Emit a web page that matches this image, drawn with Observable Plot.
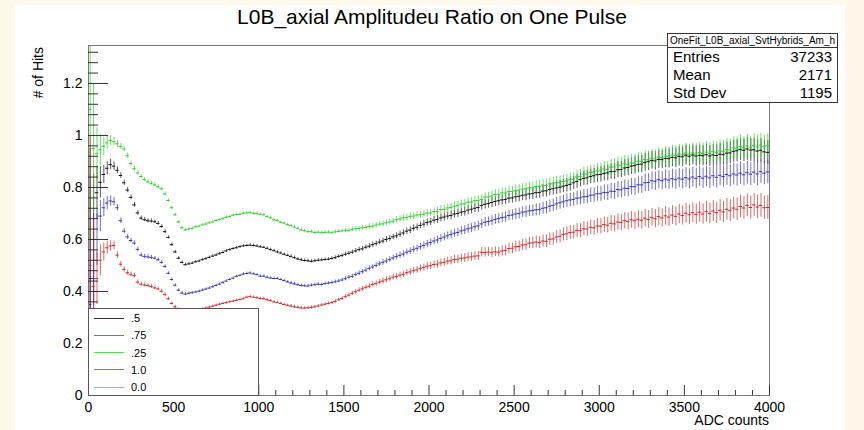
<!DOCTYPE html>
<html><head><meta charset="utf-8">
<script src="https://cdn.jsdelivr.net/npm/d3@7"></script>
<script src="https://cdn.jsdelivr.net/npm/@observablehq/plot@0.6"></script>
<style>
body{margin:0;background:#fdf8ea;width:864px;height:430px;overflow:hidden;font-family:"Liberation Sans",Arial,sans-serif;position:relative;}
#canvas{position:absolute;left:15px;top:5px;width:830px;height:425px;background:#fff;}
#chart{position:absolute;left:0;top:0;}
#title{position:absolute;left:0;width:864px;top:5px;text-align:center;font-size:21px;color:#000;}
#stats{position:absolute;left:667px;top:33px;width:169px;height:68px;border:1px solid #333;background:#fff;font-size:15px;}
#stats .hd{height:13px;border-bottom:1px solid #333;font-size:10px;text-align:center;line-height:13px;}
#stats .row{display:flex;justify-content:space-between;padding:0 5px 0 5px;height:18px;line-height:18px;}
#legend{position:absolute;left:88px;top:308px;width:169px;height:86px;border:1px solid #555;background:#fff;font-size:11px;}
#legend .it{position:absolute;left:5px;height:14px;display:flex;align-items:center;}
#legend .ln{width:30px;height:0;border-top:1px solid;margin-right:7px;}
#ytitle{position:absolute;left:30px;top:47px;writing-mode:vertical-rl;transform:rotate(180deg);font-size:14px;white-space:nowrap;}
#xtitle{position:absolute;right:95px;top:412px;font-size:14px;}
</style></head>
<body>
<div id="canvas"></div>
<div id="chart"></div>
<div id="title"></div>
<div id="ytitle"></div>
<div id="xtitle"></div>
<div id="stats"></div>
<div id="legend"></div>
<script>
// ---------- data ----------
const titleText = "L0B_axial Amplitudeu Ratio on One Pulse";
const xLabel = "ADC counts";
const yLabel = "# of Hits";
const statsName = "OneFit_L0B_axial_SvtHybrids_Am_h";
const statsKeys = ["Entries", "Mean", "Std Dev"];
const statsVals = ["37233", "2171", "1195"];

const binWidth = 20;           // ADC counts per bin
const xDomain = [0, 4000];
const yDomain = [0, 1.346];
const xTickValues = [0, 500, 1000, 1500, 2000, 2500, 3000, 3500, 4000];
const xTickLabels = ["0", "500", "1000", "1500", "2000", "2500", "3000", "3500", "4000"];
const xMinorStep = 100;
const yTickValues = [0, 0.2, 0.4, 0.6, 0.8, 1.0, 1.2];
const yTickLabels = ["0", "0.2", "0.4", "0.6", "0.8", "1", "1.2"];
const yMinorStep = 0.04;

const seriesNames = [".5", ".75", ".25", "1.0", "0.0"];
const seriesColors = ["#111111", "#3434b4", "#30cc30", "#c82a2a", "#00e5ee"];
const legendColors = ["#333333", "#6a6ae6", "#55dd55", "#dd5555", "#30e0f0"];

const ratio05 = [
0.450,0.600,0.780,0.820,0.850,0.874,0.888,0.882,0.866,0.846,
0.818,0.790,0.762,0.733,0.702,0.682,0.676,0.672,0.671,0.668,
0.662,0.650,0.630,0.608,0.580,0.552,0.528,0.512,0.503,0.506,
0.509,0.514,0.517,0.522,0.526,0.531,0.536,0.540,0.545,0.550,
0.556,0.561,0.565,0.568,0.572,0.575,0.577,0.578,0.577,0.575,
0.572,0.570,0.566,0.561,0.557,0.552,0.548,0.543,0.539,0.535,
0.530,0.525,0.522,0.519,0.518,0.516,0.518,0.520,0.521,0.523,
0.524,0.527,0.530,0.535,0.538,0.543,0.547,0.551,0.556,0.561,
0.564,0.570,0.574,0.580,0.584,0.590,0.594,0.600,0.604,0.610,
0.614,0.620,0.625,0.632,0.636,0.643,0.647,0.654,0.659,0.665,
0.668,0.674,0.677,0.683,0.686,0.690,0.692,0.698,0.700,0.705,
0.707,0.713,0.716,0.720,0.723,0.731,0.735,0.738,0.742,0.746,
0.749,0.752,0.754,0.759,0.760,0.764,0.766,0.770,0.771,0.775,
0.776,0.780,0.781,0.786,0.787,0.792,0.795,0.798,0.801,0.805,
0.808,0.812,0.818,0.823,0.830,0.835,0.837,0.842,0.845,0.849,
0.850,0.854,0.856,0.861,0.862,0.868,0.869,0.875,0.877,0.882,
0.884,0.889,0.890,0.896,0.899,0.904,0.902,0.908,0.907,0.912,
0.911,0.916,0.914,0.920,0.918,0.924,0.920,0.925,0.921,0.924,
0.922,0.926,0.921,0.925,0.923,0.928,0.926,0.932,0.933,0.939,
0.941,0.946,0.943,0.948,0.944,0.945,0.940,0.943,0.937,0.935];

const ratio075 = [
0.350,0.450,0.600,0.690,0.722,0.740,0.748,0.745,0.722,0.672,
0.632,0.610,0.596,0.586,0.562,0.540,0.535,0.533,0.531,0.528,
0.522,0.512,0.496,0.470,0.446,0.424,0.405,0.394,0.390,0.393,
0.395,0.398,0.401,0.405,0.409,0.413,0.418,0.423,0.428,0.434,
0.440,0.446,0.451,0.458,0.462,0.467,0.469,0.471,0.468,0.465,
0.459,0.459,0.455,0.452,0.450,0.450,0.446,0.442,0.437,0.433,
0.429,0.426,0.423,0.422,0.421,0.424,0.426,0.428,0.427,0.430,
0.432,0.434,0.437,0.440,0.444,0.449,0.455,0.458,0.465,0.470,
0.476,0.482,0.489,0.494,0.500,0.506,0.512,0.517,0.523,0.529,
0.534,0.539,0.544,0.551,0.555,0.561,0.566,0.572,0.577,0.583,
0.588,0.594,0.598,0.604,0.609,0.614,0.619,0.624,0.627,0.633,
0.636,0.641,0.644,0.649,0.652,0.660,0.666,0.669,0.672,0.677,
0.680,0.684,0.686,0.692,0.694,0.698,0.700,0.705,0.706,0.710,
0.711,0.714,0.715,0.720,0.722,0.728,0.731,0.737,0.741,0.745,
0.749,0.752,0.754,0.759,0.760,0.764,0.765,0.770,0.771,0.776,
0.776,0.781,0.780,0.786,0.785,0.792,0.791,0.797,0.796,0.803,
0.803,0.810,0.810,0.818,0.819,0.826,0.824,0.830,0.826,0.832,
0.828,0.834,0.830,0.836,0.832,0.838,0.833,0.840,0.835,0.842,
0.836,0.843,0.837,0.845,0.839,0.847,0.842,0.850,0.845,0.852,
0.848,0.855,0.849,0.857,0.851,0.859,0.852,0.861,0.855,0.860];

const ratio025 = [
1.100,0.950,0.930,0.945,0.958,0.972,0.981,0.976,0.968,0.958,
0.948,0.922,0.892,0.872,0.856,0.842,0.830,0.822,0.816,0.810,
0.803,0.795,0.775,0.750,0.722,0.695,0.667,0.645,0.637,0.640,
0.643,0.649,0.651,0.656,0.659,0.664,0.667,0.673,0.676,0.680,
0.685,0.688,0.693,0.696,0.697,0.701,0.702,0.704,0.700,0.700,
0.697,0.695,0.688,0.683,0.676,0.673,0.666,0.663,0.657,0.653,
0.648,0.643,0.637,0.634,0.630,0.630,0.627,0.628,0.626,0.627,
0.628,0.626,0.629,0.631,0.633,0.635,0.635,0.639,0.641,0.642,
0.645,0.646,0.650,0.651,0.655,0.659,0.660,0.664,0.667,0.670,
0.676,0.679,0.683,0.684,0.689,0.690,0.694,0.695,0.697,0.701,
0.702,0.707,0.708,0.715,0.716,0.721,0.723,0.728,0.730,0.736,
0.737,0.743,0.744,0.749,0.750,0.754,0.763,0.764,0.767,0.773,
0.774,0.779,0.779,0.785,0.785,0.789,0.790,0.794,0.795,0.799,
0.799,0.804,0.804,0.809,0.808,0.814,0.814,0.818,0.819,0.823,
0.825,0.830,0.832,0.840,0.843,0.851,0.852,0.858,0.859,0.864,
0.864,0.871,0.870,0.878,0.879,0.886,0.884,0.891,0.889,0.895,
0.894,0.901,0.900,0.907,0.906,0.912,0.910,0.917,0.915,0.921,
0.919,0.925,0.923,0.929,0.926,0.932,0.928,0.933,0.929,0.934,
0.931,0.936,0.932,0.938,0.935,0.941,0.939,0.946,0.944,0.952,
0.951,0.958,0.952,0.960,0.953,0.962,0.956,0.963,0.957,0.960];

const ratio10 = [
0.500,0.420,0.450,0.520,0.552,0.568,0.575,0.577,0.540,0.505,
0.485,0.472,0.466,0.461,0.436,0.428,0.425,0.423,0.419,0.414,
0.410,0.401,0.388,0.372,0.354,0.341,0.331,0.324,0.320,0.321,
0.323,0.326,0.329,0.332,0.336,0.340,0.343,0.347,0.351,0.354,
0.357,0.360,0.363,0.366,0.369,0.372,0.378,0.380,0.378,0.376,
0.373,0.372,0.368,0.365,0.360,0.358,0.354,0.350,0.347,0.344,
0.341,0.339,0.337,0.336,0.337,0.339,0.341,0.344,0.348,0.351,
0.354,0.357,0.362,0.368,0.373,0.380,0.386,0.393,0.399,0.405,
0.410,0.416,0.420,0.427,0.430,0.436,0.440,0.445,0.449,0.455,
0.458,0.463,0.466,0.472,0.475,0.480,0.483,0.489,0.492,0.497,
0.499,0.504,0.505,0.510,0.512,0.517,0.518,0.523,0.524,0.528,
0.529,0.532,0.533,0.536,0.537,0.551,0.550,0.552,0.549,0.553,
0.551,0.556,0.558,0.565,0.566,0.572,0.573,0.579,0.580,0.586,
0.587,0.590,0.588,0.594,0.593,0.601,0.602,0.609,0.612,0.619,
0.622,0.627,0.628,0.635,0.634,0.641,0.640,0.647,0.645,0.652,
0.651,0.657,0.655,0.662,0.660,0.667,0.665,0.672,0.669,0.676,
0.672,0.678,0.674,0.682,0.677,0.685,0.680,0.688,0.683,0.691,
0.686,0.694,0.689,0.698,0.692,0.701,0.695,0.703,0.697,0.705,
0.698,0.707,0.700,0.709,0.703,0.712,0.706,0.716,0.711,0.721,
0.716,0.727,0.721,0.731,0.723,0.733,0.725,0.731,0.722,0.723];

// half-length of the error bar per bin
const binError = [
0.500,0.250,0.100,0.060,0.035,0.025,0.020,0.016,0.013,0.011,
0.010,0.010,0.009,0.009,0.009,0.008,0.008,0.008,0.008,0.007,
0.007,0.007,0.007,0.006,0.006,0.006,0.006,0.006,0.006,0.006,
0.005,0.005,0.005,0.005,0.005,0.005,0.005,0.005,0.005,0.005,
0.005,0.005,0.005,0.005,0.005,0.005,0.005,0.005,0.005,0.005,
0.005,0.005,0.005,0.005,0.005,0.005,0.005,0.005,0.005,0.006,
0.006,0.006,0.006,0.006,0.006,0.006,0.006,0.006,0.006,0.006,
0.006,0.006,0.007,0.007,0.007,0.008,0.008,0.008,0.009,0.009,
0.009,0.009,0.010,0.010,0.010,0.010,0.011,0.011,0.011,0.011,
0.012,0.012,0.012,0.012,0.013,0.013,0.013,0.013,0.014,0.014,
0.014,0.014,0.015,0.015,0.015,0.015,0.016,0.016,0.016,0.016,
0.017,0.017,0.017,0.017,0.018,0.018,0.018,0.018,0.019,0.019,
0.019,0.019,0.020,0.020,0.020,0.021,0.021,0.021,0.022,0.022,
0.022,0.023,0.023,0.023,0.024,0.024,0.024,0.025,0.025,0.025,
0.026,0.026,0.026,0.027,0.027,0.027,0.028,0.028,0.028,0.029,
0.029,0.029,0.030,0.030,0.031,0.031,0.031,0.032,0.032,0.032,
0.033,0.033,0.033,0.034,0.034,0.034,0.035,0.035,0.035,0.036,
0.036,0.036,0.037,0.037,0.037,0.038,0.038,0.038,0.039,0.039,
0.039,0.040,0.040,0.040,0.041,0.041,0.041,0.042,0.042,0.042,
0.043,0.043,0.043,0.044,0.044,0.044,0.045,0.045,0.045,0.046];

const seriesValues = [ratio05, ratio075, ratio025, ratio10];

// ---------- build ----------
const rows = [];
seriesValues.forEach((vals, s) => {
  vals.forEach((v, i) => {
    rows.push({series: seriesNames[s], x0: i * binWidth, x1: (i + 1) * binWidth, x: (i + 0.5) * binWidth, y: v, lo: v - binError[i], hi: v + binError[i]});
  });
});
const xMinor = d3.range(xDomain[0], xDomain[1] + 1, xMinorStep).filter(v => !xTickValues.includes(v));
const yMinor = d3.range(0, yDomain[1], yMinorStep).map(v => +v.toFixed(3)).filter(v => !yTickValues.some(t => Math.abs(t - v) < 1e-6));

const plot = Plot.plot({
  width: 864, height: 430,
  marginLeft: 88, marginRight: 95, marginTop: 45, marginBottom: 35,
  style: {background: "transparent", fontFamily: "Liberation Sans, Arial, sans-serif", overflow: "visible"},
  x: {domain: xDomain, axis: null},
  y: {domain: yDomain, axis: null},
  color: {domain: seriesNames, range: seriesColors, legend: false},
  marks: [
    Plot.ruleX(rows, {x: "x", y1: "lo", y2: "hi", stroke: "series", strokeWidth: 1, strokeOpacity: 0.7, clip: true}),
    Plot.ruleY(rows, {y: "y", x1: "x0", x2: "x1", stroke: "series", strokeWidth: 1, clip: true}),
    Plot.frame({stroke: "#777", strokeWidth: 1}),
    Plot.ruleX(xTickValues, {x: d => d, y1: 0, y2: 0, insetBottom: 10, stroke: "#333"}),
    Plot.ruleX(xMinor, {x: d => d, y1: 0, y2: 0, insetBottom: 5, stroke: "#333"}),
    Plot.ruleY(yTickValues, {y: d => d, x1: 0, x2: 0, insetRight: -20, stroke: "#333"}),
    Plot.ruleY(yMinor, {y: d => d, x1: 0, x2: 0, insetRight: -10, stroke: "#333"}),
    Plot.text(xTickValues, {x: d => d, y: 0, dy: 12, text: (d, i) => xTickLabels[i], fontSize: 14, fill: "#000"}),
    Plot.text(yTickValues, {x: 0, y: d => d, dx: -6, textAnchor: "end", text: (d, i) => yTickLabels[i], fontSize: 14, fill: "#000"})
  ]
});
document.getElementById("chart").appendChild(plot);

document.getElementById("title").textContent = titleText;
document.getElementById("xtitle").textContent = xLabel;
document.getElementById("ytitle").textContent = yLabel;

const st = document.getElementById("stats");
st.innerHTML = `<div class="hd"></div>`;
st.querySelector(".hd").textContent = statsName;
statsKeys.forEach((k, i) => {
  const r = document.createElement("div");
  r.className = "row";
  const a = document.createElement("span"); a.textContent = k;
  const b = document.createElement("span"); b.textContent = statsVals[i];
  r.append(a, b); st.appendChild(r);
});

const lg = document.getElementById("legend");
seriesNames.forEach((n, i) => {
  const it = document.createElement("div");
  it.className = "it";
  it.style.top = (2 + i * 17.3) + "px";
  const ln = document.createElement("div"); ln.className = "ln"; ln.style.borderColor = legendColors[i];
  const tx = document.createElement("span"); tx.textContent = n;
  it.append(ln, tx); lg.appendChild(it);
});
</script>
</body></html>
